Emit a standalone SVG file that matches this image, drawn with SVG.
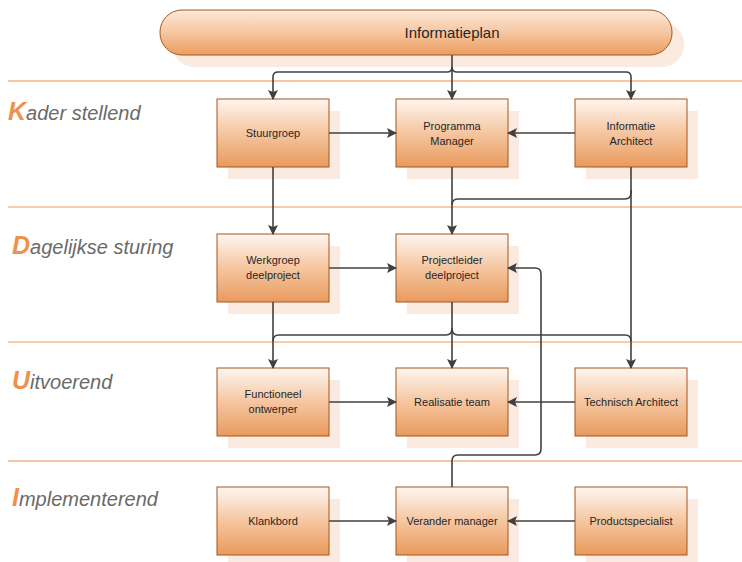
<svg xmlns="http://www.w3.org/2000/svg" width="742" height="562" viewBox="0 0 742 562">
<defs>
<linearGradient id="gBox" x1="0" y1="0" x2="0" y2="1">
<stop offset="0" stop-color="#fef6f0"/>
<stop offset="0.5" stop-color="#f5c6a0"/>
<stop offset="1" stop-color="#e99a5c"/>
</linearGradient>
<linearGradient id="gPill" x1="0" y1="0" x2="0" y2="1">
<stop offset="0" stop-color="#fde8d8"/>
<stop offset="0.5" stop-color="#f6c7a1"/>
<stop offset="1" stop-color="#eb9c5e"/>
</linearGradient>
<marker id="arr" viewBox="0 0 10 10" refX="9" refY="5" markerWidth="10" markerHeight="10" markerUnits="userSpaceOnUse" orient="auto">
<path d="M0,0 L10,5 L0,10 L2,5 Z" fill="#404040"/>
</marker>
</defs>
<style>
.shadow{fill:#fbeadf}
.box{fill:url(#gBox);stroke:#a3571f;stroke-width:1}
.lbl{font-family:"Liberation Sans",Arial,sans-serif;font-size:11px;fill:#262626;text-anchor:middle}
.conn{fill:none;stroke:#404040;stroke-width:1.6}
.arrow{marker-end:url(#arr)}
.lane{font-family:"Liberation Sans",Arial,sans-serif;font-style:italic;font-size:20px;fill:#6a6a6a}
.cap{font-weight:bold;font-size:25px;fill:#ef9149}
.sepA{stroke:#f5b283;stroke-width:1.5}
.sepB{stroke:#ef9a52;stroke-width:1.2}
</style>
<rect width="742" height="562" fill="#ffffff"/>
<g id="separators">
<line class="sepA" x1="8" y1="81" x2="742" y2="81"/>
<line class="sepB" x1="8" y1="207" x2="742" y2="207"/>
<line class="sepB" x1="8" y1="342" x2="742" y2="342"/>
<line class="sepA" x1="8" y1="461" x2="742" y2="461"/>
</g>
<g id="lanes">
<text class="lane" x="8" y="120"><tspan class="cap">K</tspan>ader stellend</text>
<text class="lane" x="12" y="254"><tspan class="cap">D</tspan>agelijkse sturing</text>
<text class="lane" x="12" y="389"><tspan class="cap">U</tspan>itvoerend</text>
<text class="lane" x="12" y="506"><tspan class="cap">I</tspan>mplementerend</text>
</g>
<g id="informatieplan">
<rect x="172" y="22" width="512" height="45" rx="22" fill="#fbeadf"/>
<rect x="160" y="10" width="512" height="45" rx="22" fill="url(#gPill)" stroke="#a3571f" stroke-width="1"/>
<text x="452" y="38" font-family="'Liberation Sans',Arial,sans-serif" font-size="15" fill="#262626" text-anchor="middle">Informatieplan</text>
</g>
<g id="stuurgroep">
<rect class="shadow" x="228" y="111" width="112" height="68"/>
<rect class="box" x="217" y="99" width="112" height="68"/>
<text class="lbl" x="273" y="137">Stuurgroep</text>
</g>
<g id="programma-manager">
<rect class="shadow" x="407" y="111" width="112" height="68"/>
<rect class="box" x="396" y="99" width="112" height="68"/>
<text class="lbl" x="452" y="130">Programma</text>
<text class="lbl" x="452" y="145">Manager</text>
</g>
<g id="informatie-architect">
<rect class="shadow" x="586" y="111" width="112" height="68"/>
<rect class="box" x="575" y="99" width="112" height="68"/>
<text class="lbl" x="631" y="130">Informatie</text>
<text class="lbl" x="631" y="145">Architect</text>
</g>
<g id="werkgroep-deelproject">
<rect class="shadow" x="228" y="246" width="112" height="68"/>
<rect class="box" x="217" y="234" width="112" height="68"/>
<text class="lbl" x="273" y="264">Werkgroep</text>
<text class="lbl" x="273" y="279">deelproject</text>
</g>
<g id="projectleider-deelproject">
<rect class="shadow" x="407" y="246" width="112" height="68"/>
<rect class="box" x="396" y="234" width="112" height="68"/>
<text class="lbl" x="452" y="264">Projectleider</text>
<text class="lbl" x="452" y="279">deelproject</text>
</g>
<g id="functioneel-ontwerper">
<rect class="shadow" x="228" y="380" width="112" height="68"/>
<rect class="box" x="217" y="368" width="112" height="68"/>
<text class="lbl" x="273" y="398">Functioneel</text>
<text class="lbl" x="273" y="413">ontwerper</text>
</g>
<g id="realisatie-team">
<rect class="shadow" x="407" y="380" width="112" height="68"/>
<rect class="box" x="396" y="368" width="112" height="68"/>
<text class="lbl" x="452" y="406">Realisatie team</text>
</g>
<g id="technisch-architect">
<rect class="shadow" x="586" y="380" width="112" height="68"/>
<rect class="box" x="575" y="368" width="112" height="68"/>
<text class="lbl" x="631" y="406">Technisch Architect</text>
</g>
<g id="klankbord">
<rect class="shadow" x="228" y="499" width="112" height="68"/>
<rect class="box" x="217" y="487" width="112" height="68"/>
<text class="lbl" x="273" y="525">Klankbord</text>
</g>
<g id="verander-manager">
<rect class="shadow" x="407" y="499" width="112" height="68"/>
<rect class="box" x="396" y="487" width="112" height="68"/>
<text class="lbl" x="452" y="525">Verander manager</text>
</g>
<g id="productspecialist">
<rect class="shadow" x="586" y="499" width="112" height="68"/>
<rect class="box" x="575" y="487" width="112" height="68"/>
<text class="lbl" x="631" y="525">Productspecialist</text>
</g>
<g id="connectors">
<path class="conn arrow" d="M452,55 V99"/>
<path class="conn arrow" d="M452,67 Q452,72 447,72 H278 Q273,72 273,77 V99"/>
<path class="conn arrow" d="M452,67 Q452,72 457,72 H626 Q631,72 631,77 V99"/>
<path class="conn arrow" d="M329,133 H396"/>
<path class="conn arrow" d="M575,133 H508"/>
<path class="conn arrow" d="M273,167 V234"/>
<path class="conn arrow" d="M452,167 V234"/>
<path class="conn" d="M631,167 V193 Q631,199 625,199 H458 Q452,199 452,205"/>
<path class="conn arrow" d="M631,190 V368"/>
<path class="conn arrow" d="M329,268 H396"/>
<path class="conn arrow" d="M273,302 V368"/>
<path class="conn arrow" d="M452,302 V368"/>
<path class="conn" d="M452,328 Q452,335 446,335 H279 Q273,335 273,341"/>
<path class="conn" d="M452,328 Q452,335 458,335 H625 Q631,335 631,341"/>
<path class="conn arrow" d="M329,402 H396"/>
<path class="conn arrow" d="M575,402 H508"/>
<path class="conn arrow" d="M329,521 H396"/>
<path class="conn arrow" d="M575,521 H508"/>
<path class="conn arrow" d="M452,487 V461 Q452,455 458,455 H535 Q541,455 541,449 V274 Q541,268 535,268 H508"/>
</g>
</svg>
